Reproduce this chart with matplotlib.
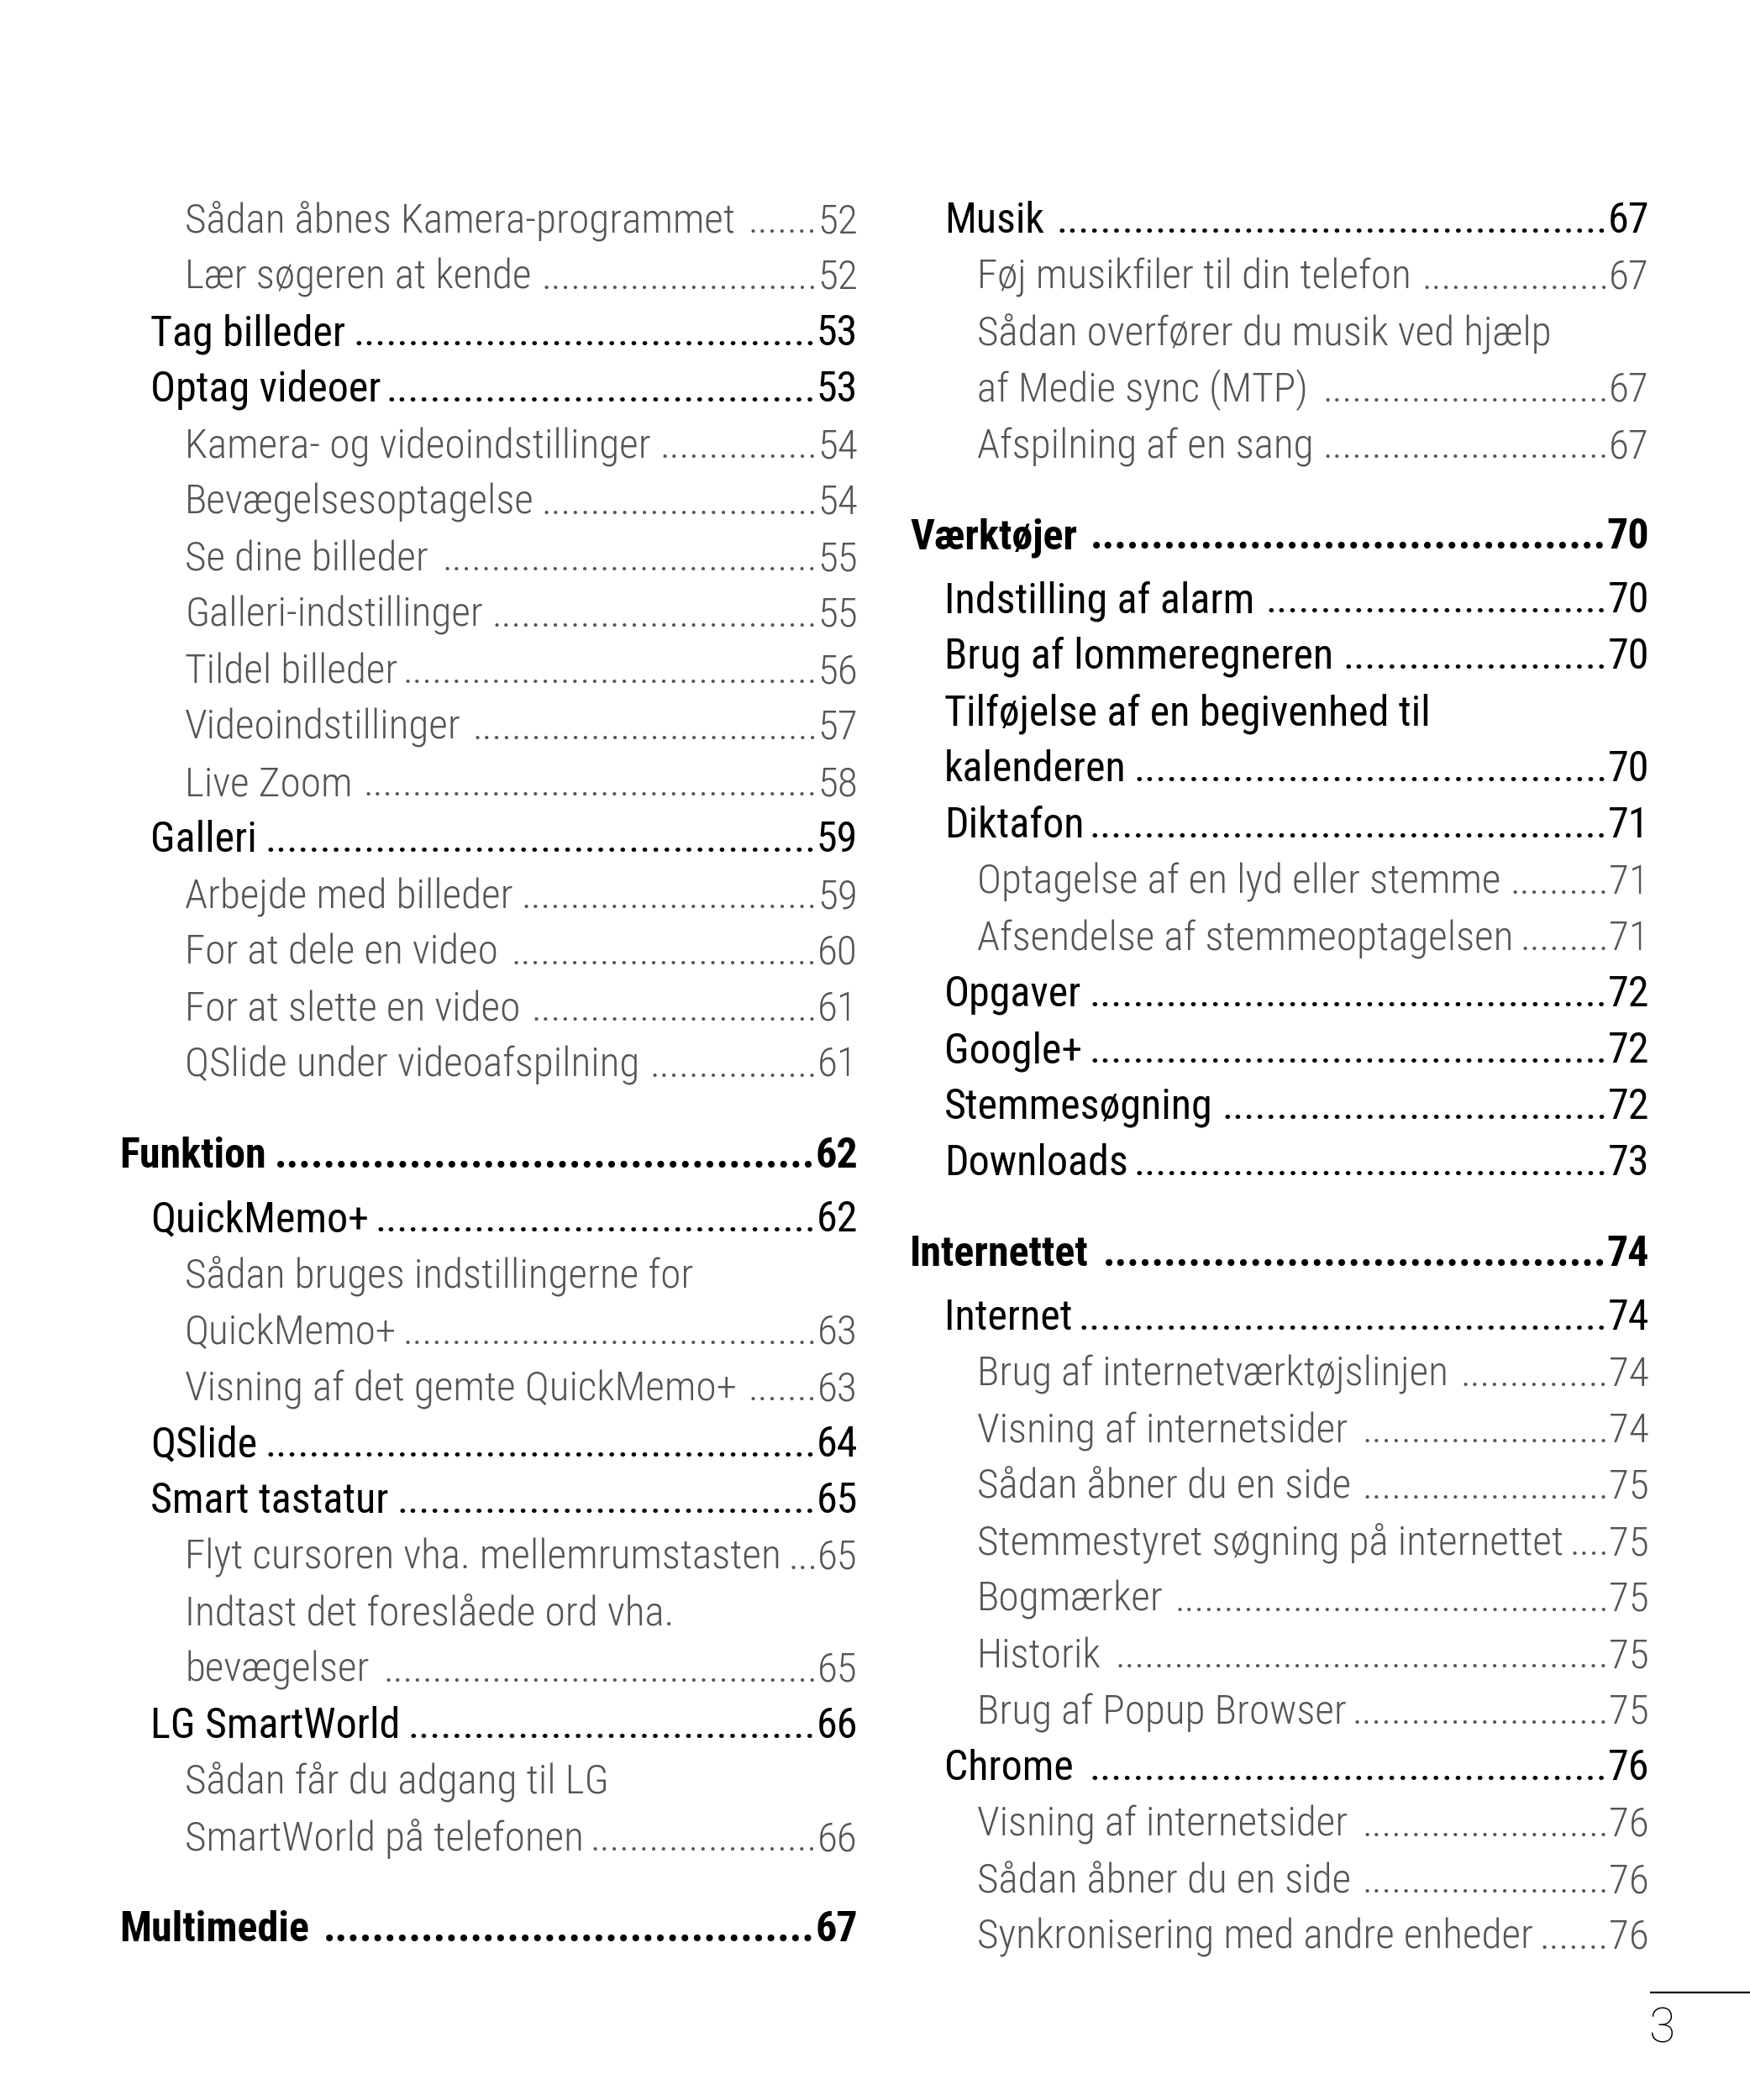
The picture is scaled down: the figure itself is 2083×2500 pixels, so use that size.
import matplotlib
matplotlib.use("Agg")
import matplotlib.pyplot as plt

# 左列の目次データ
left_titles = [
    "Sådan åbnes Kamera-programmet", "Lær søgeren at kende", "Tag billeder",
    "Optag videoer", "Kamera- og videoindstillinger", "Bevægelsesoptagelse",
    "Se dine billeder", "Galleri-indstillinger", "Tildel billeder",
    "Videoindstillinger", "Live Zoom", "Galleri", "Arbejde med billeder",
    "For at dele en video", "For at slette en video",
    "QSlide under videoafspilning", "Funktion", "QuickMemo+",
    "Sådan bruges indstillingerne for", "QuickMemo+",
    "Visning af det gemte QuickMemo+", "QSlide", "Smart tastatur",
    "Flyt cursoren vha. mellemrumstasten", "Indtast det foreslåede ord vha.",
    "bevægelser", "LG SmartWorld", "Sådan får du adgang til LG",
    "SmartWorld på telefonen", "Multimedie",
]
left_pages = [
    "52", "52", "53", "53", "54", "54", "55", "55", "56", "57", "58", "59",
    "59", "60", "61", "61", "62", "62", None, "63", "63", "64", "65", "65",
    None, "65", "66", None, "66", "67",
]
left_levels = [2, 2, 1, 1, 2, 2, 2, 2, 2, 2, 2, 1, 2, 2, 2, 2, 0, 1, 2, 2,
               2, 1, 1, 2, 2, 2, 1, 2, 2, 0]

# 右列の目次データ
right_titles = [
    "Musik", "Føj musikfiler til din telefon",
    "Sådan overfører du musik ved hjælp", "af Medie sync (MTP)",
    "Afspilning af en sang", "Værktøjer", "Indstilling af alarm",
    "Brug af lommeregneren", "Tilføjelse af en begivenhed til", "kalenderen",
    "Diktafon", "Optagelse af en lyd eller stemme",
    "Afsendelse af stemmeoptagelsen", "Opgaver", "Google+", "Stemmesøgning",
    "Downloads", "Internettet", "Internet", "Brug af internetværktøjslinjen",
    "Visning af internetsider", "Sådan åbner du en side",
    "Stemmestyret søgning på internettet", "Bogmærker", "Historik",
    "Brug af Popup Browser", "Chrome", "Visning af internetsider",
    "Sådan åbner du en side", "Synkronisering med andre enheder",
]
right_pages = [
    "67", "67", None, "67", "67", "70", "70", "70", None, "70", "71", "71",
    "71", "72", "72", "72", "73", "74", "74", "74", "74", "75", "75", "75",
    "75", "75", "76", "76", "76", "76",
]
right_levels = [1, 2, 2, 2, 2, 0, 1, 1, 1, 1, 1, 2, 2, 1, 1, 1, 1, 0, 1, 2,
                2, 2, 2, 2, 2, 2, 1, 2, 2, 2]

page_number = "3"

W, H = 2083, 2500
fig = plt.figure(figsize=(W / 100, H / 100), dpi=100)
ax = fig.add_axes([0, 0, 1, 1])
ax.set_xlim(0, W)
ax.set_ylim(H, 0)
ax.axis("off")

families = ["Roboto Condensed", "Liberation Sans Narrow", "Noto Sans",
            "DejaVu Sans"]
fsizes = {0: 36, 1: 36, 2: 35.5}
colors = {0: "black", 1: "black", 2: "#555555"}
weights = {0: "bold", 1: "normal", 2: "light"}

renderer = fig.canvas.get_renderer()


def draw_column(titles, pages, levels, indents, right_x):
    y = 277
    for i, (title, page, lvl) in enumerate(zip(titles, pages, levels)):
        if i > 0:
            if lvl == 0:
                y += 108
            elif levels[i - 1] == 0:
                y += 76
            else:
                y += 67
        kw = dict(fontsize=fsizes[lvl], family=families, color=colors[lvl],
                  fontweight=weights[lvl], fontstretch="condensed",
                  va="baseline")
        t = ax.text(indents[lvl], y, title, ha="left", **kw)
        if page is None:
            continue
        p = ax.text(right_x, y, page, ha="right", **kw)
        # 点線リーダーの長さを計算
        tb = t.get_window_extent(renderer)
        pb = p.get_window_extent(renderer)
        probe = ax.text(0, 0, "." * 40, **kw)
        adv = probe.get_window_extent(renderer).width / 40
        probe.remove()
        gap = pb.x0 - tb.x1 - 6
        n = int(gap / adv)
        if n > 0:
            ax.text(pb.x0, y, "." * n, ha="right", **kw)


draw_column(left_titles, left_pages, left_levels, [142, 179, 220], 1021)
draw_column(right_titles, right_pages, right_levels, [1083, 1124, 1163], 1963)

# ページ番号
ax.plot([1964, W], [2372, 2372], color="black", linewidth=1.6,
        solid_capstyle="butt")
ax.text(1962, 2432, page_number, fontsize=41, family=["Roboto", "DejaVu Sans"],
        fontweight="light", color="black", ha="left", va="baseline")

fig.savefig("out.png", dpi=100)
